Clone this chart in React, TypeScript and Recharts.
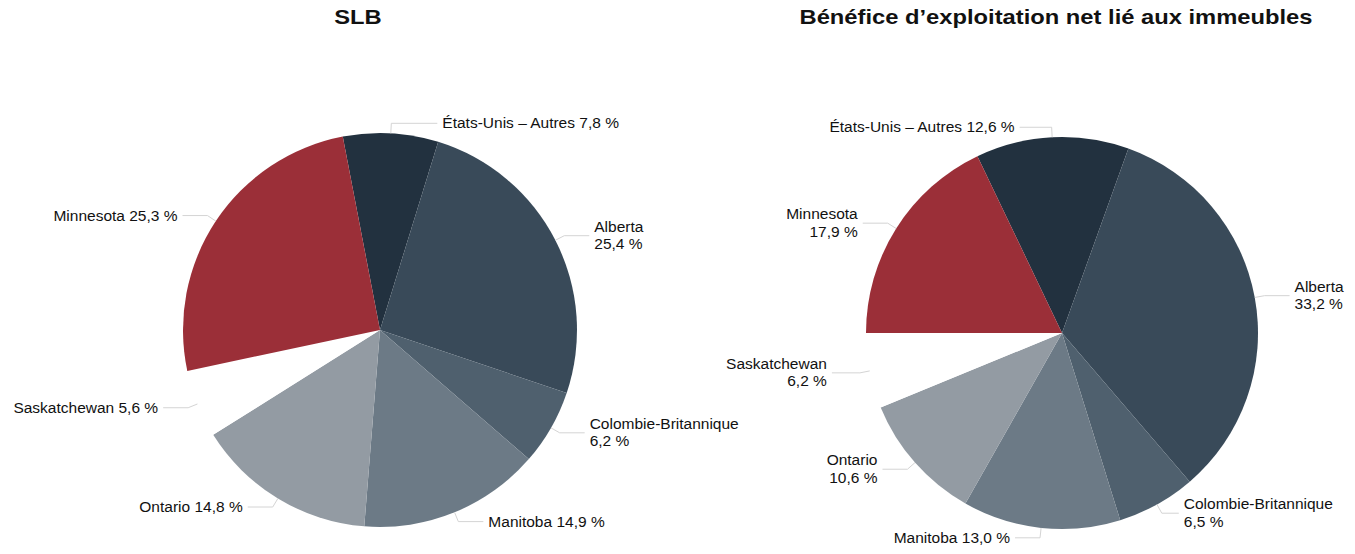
import React from "react";
import { PieChart, Pie, Cell } from "recharts";

const regions = [
  "États-Unis – Autres",
  "Alberta",
  "Colombie-Britannique",
  "Manitoba",
  "Ontario",
  "Saskatchewan",
  "Minnesota",
];
const slbShare = [7.8, 25.4, 6.2, 14.9, 14.8, 5.6, 25.3];
const noiShare = [12.6, 33.2, 6.5, 13.0, 10.6, 6.2, 17.9];
const sliceColors = ["#22313f", "#394a59", "#4f606e", "#6c7a86", "#939ba3", "#ffffff", "#9b2f38"];

const slbTitle = "SLB";
const noiTitle = "Bénéfice d’exploitation net lié aux immeubles";

// which labels are split on two lines, per chart
const slbWrapped = ["Alberta", "Colombie-Britannique"];
const noiWrapped = ["Minnesota", "Alberta", "Saskatchewan", "Ontario", "Colombie-Britannique"];

const FONT = '"Liberation Sans", Arial, sans-serif';

const toRows = (values: number[]) => regions.map((name, i) => ({ name, value: values[i] }));

const fmt = (v: number) => v.toFixed(1).replace(".", ",") + " %";

const makeLabel =
  (wrapped: string[], extraLeg: Record<string, number>) =>
  (props: any) => {
    const { cx, cy, midAngle, outerRadius, name, value } = props;
    const rad = (-midAngle * Math.PI) / 180;
    const cos = Math.cos(rad);
    const sin = Math.sin(rad);
    const sx = cx + outerRadius * cos;
    const sy = cy + outerRadius * sin;
    const mx = cx + (outerRadius + 10) * cos;
    const my = cy + (outerRadius + 10) * sin;
    const right = cos >= 0;
    const leg = 25 + (extraLeg[name] || 0);
    const ex = mx + (right ? leg : -leg);
    const tx = ex + (right ? 5 : -5);
    const anchor = right ? "start" : "end";
    const twoLines = wrapped.includes(name);
    return (
      <g>
        <path
          d={`M${sx},${sy}L${mx},${my}L${ex},${my}`}
          stroke="#d4d4d4"
          strokeWidth={1}
          fill="none"
        />
        {twoLines ? (
          <text x={tx} y={my - 4} textAnchor={anchor} fill="#111" fontSize={15.5} fontFamily={FONT}>
            <tspan x={tx}>{name}</tspan>
            <tspan x={tx} dy={17.5}>
              {fmt(value)}
            </tspan>
          </text>
        ) : (
          <text x={tx} y={my + 5} textAnchor={anchor} fill="#111" fontSize={15.5} fontFamily={FONT}>
            {`${name} ${fmt(value)}`}
          </text>
        )}
      </g>
    );
  };

const titleStyle = (x: number): React.CSSProperties => ({
  position: "absolute",
  left: x,
  top: 6,
  transform: "translateX(-50%) scaleX(1.13)",
  fontFamily: FONT,
  fontWeight: "bold",
  fontSize: 21,
  lineHeight: "21px",
  color: "#111",
  whiteSpace: "nowrap",
});

export default function App() {
  return (
    <div style={{ position: "absolute", left: 0, top: 0, width: 1355, height: 554, background: "#fff" }}>
      <div style={titleStyle(358)}>{slbTitle}</div>
      <div style={titleStyle(1056)}>{noiTitle}</div>
      <PieChart width={1355} height={554} margin={{ top: 0, right: 0, bottom: 0, left: 0 }}>
        <Pie
          data={toRows(slbShare)}
          dataKey="value"
          nameKey="name"
          cx={380}
          cy={330}
          outerRadius={197}
          startAngle={100.9}
          endAngle={-259.1}
          stroke="none"
          labelLine={false}
          label={makeLabel(slbWrapped, { "États-Unis – Autres": 21 })}
          isAnimationActive={false}
        >
          {sliceColors.map((c, i) => (
            <Cell key={`slb-${i}`} fill={c} />
          ))}
        </Pie>
        <Pie
          data={toRows(noiShare)}
          dataKey="value"
          nameKey="name"
          cx={1062}
          cy={333}
          outerRadius={196}
          startAngle={115.56}
          endAngle={-244.44}
          stroke="none"
          labelLine={false}
          label={makeLabel(noiWrapped, { "États-Unis – Autres": 7, Saskatchewan: 3, "Colombie-Britannique": -8 })}
          isAnimationActive={false}
        >
          {sliceColors.map((c, i) => (
            <Cell key={`noi-${i}`} fill={c} />
          ))}
        </Pie>
      </PieChart>
    </div>
  );
}
